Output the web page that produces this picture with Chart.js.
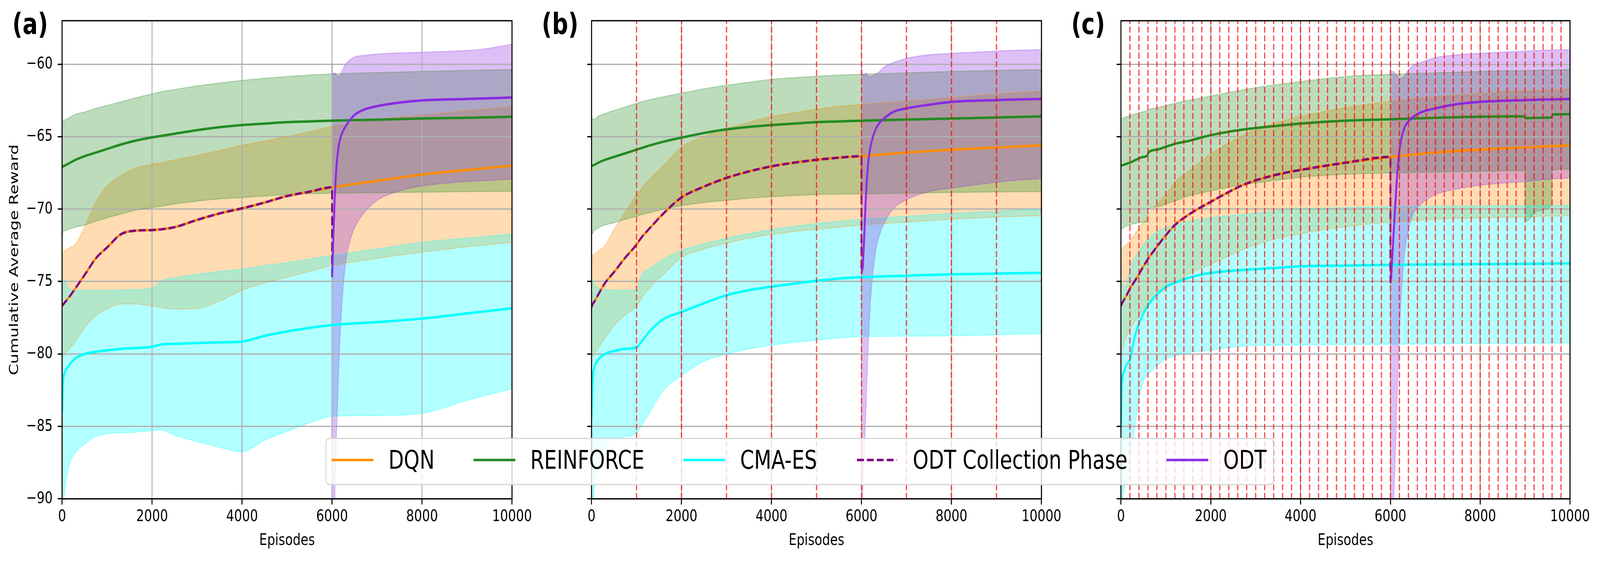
<!DOCTYPE html>
<html>
<head>
<meta charset="utf-8">
<script src="https://cdn.jsdelivr.net/npm/chart.js@4.4.1/dist/chart.umd.min.js"></script>
<style>
  html, body { margin: 0; padding: 0; background: #fff; overflow: hidden; }
  #wrap { position: relative; width: 5334px; height: 1435px; overflow: hidden; }
  #fig { position: absolute; left: 0; top: 0; width: 5334px; height: 1435px; overflow: hidden; font-family: "DejaVu Sans"; transform-origin: 0 0; }
  #fig canvas { position: absolute; left: 0; top: 0; }
  .tag { position: absolute; top: 24px; font: bold 75px/75px "DejaVu Sans"; color: #000; }
  #legend {
    position: absolute; left: 1085px; top: 1120px; height: 115px;
    padding: 0 21px; border: 3px solid #d6d6d6; border-radius: 14px;
    background: rgba(255,255,255,0.8); display: flex; align-items: flex-start;
    font: 66.7px "DejaVu Sans"; color: #000; white-space: nowrap;
  }
  #legend svg { width: 133px; height: 106px; overflow: visible; margin-right: 53px; flex: none; }
  #legend span { line-height: 106px; margin-right: 133px; }
  #legend span:last-child { margin-right: 0; }
</style>
</head>
<body>
<div id="wrap">
<div id="fig">
  <canvas id="chartA" width="5334" height="1435"></canvas>
  <canvas id="chartB" width="5334" height="1435"></canvas>
  <canvas id="chartC" width="5334" height="1435"></canvas>
  <div class="tag" style="left:41px">(a)</div>
  <div class="tag" style="left:1806px">(b)</div>
  <div class="tag" style="left:3571px">(c)</div>
  <div id="legend"></div>
</div>
</div>
<script>
// --- DATA ---
const xTicks = [0, 2000, 4000, 6000, 8000, 10000];
const yTicks = [-90, -85, -80, -75, -70, -65, -60];
const yMin = -90, yMax = -57;

const seriesNames = ['DQN', 'REINFORCE', 'CMA-ES', 'ODT Collection Phase', 'ODT'];

// panel (a)
const episodesA = [0, 20, 60, 150, 300, 500, 750, 1000, 1300, 1600, 2000, 2200, 2500, 3000, 3500, 4000, 4500, 5000, 5500, 6000, 7000, 8000, 9000, 10000];
const dqnMeanA = [-76.7, -76.6, -76.45, -76.1, -75.45, -74.55, -73.4, -72.65, -71.75, -71.5, -71.45, -71.4, -71.25, -70.75, -70.3, -69.95, -69.55, -69.1, -68.8, -68.5, -68.05, -67.62, -67.3, -67.0];
const dqnUpA = [-73.3, -73.0, -72.9, -72.7, -72.4, -71.2, -69.5, -68.4, -67.7, -67.2, -66.9, -66.8, -66.6, -66.3, -65.95, -65.6, -65.3, -65.0, -64.65, -64.3, -63.8, -63.5, -63.2, -62.93];
const dqnLowA = [-80.5, -80.2, -80.0, -79.7, -79.1, -78.2, -77.35, -76.9, -76.55, -76.55, -76.7, -76.8, -76.9, -76.85, -76.35, -75.6, -75.1, -74.7, -74.3, -73.9, -73.4, -72.97, -72.6, -72.3];
const reinMeanA = [-67.1, -67.05, -67.0, -66.85, -66.6, -66.35, -66.1, -65.85, -65.55, -65.3, -65.05, -64.95, -64.8, -64.55, -64.35, -64.2, -64.1, -64.0, -63.95, -63.9, -63.83, -63.75, -63.7, -63.63];
const reinUpA = [-64.1, -63.9, -63.85, -63.7, -63.45, -63.3, -63.05, -62.85, -62.6, -62.35, -62.05, -61.9, -61.75, -61.5, -61.3, -61.12, -60.97, -60.85, -60.75, -60.67, -60.58, -60.5, -60.43, -60.37];
const reinLowA = [-71.9, -71.6, -71.5, -71.4, -71.25, -71.1, -70.85, -70.6, -70.35, -70.1, -69.9, -69.8, -69.65, -69.45, -69.3, -69.2, -69.1, -69.0, -68.95, -68.9, -68.87, -68.83, -68.8, -68.77];
const cmaMeanA = [-84.0, -82.0, -81.3, -80.8, -80.3, -80.0, -79.85, -79.75, -79.65, -79.6, -79.5, -79.35, -79.3, -79.25, -79.2, -79.15, -78.75, -78.45, -78.2, -78.0, -77.8, -77.56, -77.2, -76.85];
const cmaUpA = [-76.5, -75.2, -74.9, -75.5, -75.6, -75.6, -75.6, -75.6, -75.6, -75.55, -75.45, -74.95, -74.75, -74.5, -74.3, -74.15, -73.9, -73.7, -73.45, -73.2, -72.75, -72.3, -72.0, -71.72];
const cmaLowA = [-93.0, -91.0, -89.5, -87.8, -86.8, -86.2, -85.7, -85.5, -85.45, -85.4, -85.3, -85.25, -85.6, -86.05, -86.45, -86.75, -85.95, -85.35, -84.75, -84.3, -84.25, -84.1, -83.2, -82.4];

// ODT runs from episode 6000 on
const odtEpisodes = [6000, 6010, 6030, 6060, 6100, 6150, 6200, 6300, 6400, 6500, 6700, 7000, 7500, 8000, 9000, 9300, 10000];
const odtMeanA = [-74.7, -74.0, -71.8, -69.2, -67.0, -65.6, -64.95, -64.3, -63.85, -63.5, -63.15, -62.9, -62.65, -62.5, -62.4, -62.37, -62.3];
const odtUpA = [-60.0, -60.5, -60.7, -60.6, -60.75, -60.85, -60.6, -60.0, -59.7, -59.5, -59.4, -59.3, -59.22, -59.18, -59.05, -58.98, -58.63];
const odtLowA = [-95, -95, -93, -90, -85.5, -80.8, -77.5, -73.7, -72.2, -71.3, -70.3, -69.4, -68.75, -68.4, -68.1, -68.05, -67.93];
const evalLinesA = [10000];

// panel (b)
const episodesB = [0, 20, 60, 150, 300, 500, 750, 1000, 1100, 1300, 1600, 2000, 2500, 3000, 3500, 4000, 4500, 5000, 5500, 6000, 7000, 8000, 9000, 10000];
const dqnMeanB = [-76.8, -76.6, -76.4, -75.9, -75.1, -74.35, -73.35, -72.45, -72.0, -71.3, -70.3, -69.2, -68.45, -67.85, -67.4, -67.05, -66.8, -66.6, -66.45, -66.35, -66.1, -65.9, -65.75, -65.6];
const dqnUpB = [-73.9, -73.3, -73.1, -72.9, -72.5, -71.4, -70.2, -69.0, -68.6, -67.9, -67.0, -65.7, -65.0, -64.45, -64.0, -63.6, -63.35, -63.1, -62.9, -62.77, -62.55, -62.3, -62.05, -61.85];
const dqnLowB = [-80.3, -80.2, -80.0, -79.6, -78.9, -78.05, -77.3, -76.7, -76.2, -75.4, -74.5, -73.35, -72.75, -72.35, -72.0, -71.75, -71.55, -71.4, -71.25, -71.1, -70.9, -70.7, -70.55, -70.45];
const reinMeanB = [-67.05, -67.0, -66.95, -66.8, -66.6, -66.4, -66.15, -65.9, -65.8, -65.6, -65.35, -65.07, -64.75, -64.5, -64.33, -64.2, -64.1, -64.0, -63.95, -63.9, -63.82, -63.75, -63.68, -63.6];
const reinUpB = [-63.8, -63.75, -63.8, -63.6, -63.4, -63.2, -62.95, -62.7, -62.6, -62.45, -62.25, -62.0, -61.7, -61.45, -61.25, -61.05, -60.93, -60.83, -60.75, -60.7, -60.6, -60.5, -60.43, -60.37];
const reinLowB = [-71.5, -71.7, -71.5, -71.3, -71.1, -70.95, -70.7, -70.5, -70.4, -70.25, -70.0, -69.77, -69.55, -69.4, -69.25, -69.15, -69.07, -69.0, -68.97, -68.95, -68.9, -68.85, -68.82, -68.8];
const cmaMeanB = [-84.5, -82.0, -81.0, -80.4, -80.0, -79.8, -79.65, -79.55, -79.2, -78.4, -77.6, -77.1, -76.5, -75.95, -75.6, -75.35, -75.15, -74.95, -74.8, -74.7, -74.6, -74.5, -74.45, -74.4];
const cmaUpB = [-75.5, -74.9, -75.2, -75.45, -75.55, -75.6, -75.6, -75.6, -74.6, -74.1, -73.45, -72.85, -72.4, -72.0, -71.7, -71.4, -71.2, -71.0, -70.85, -70.7, -70.5, -70.3, -70.15, -70.0];
const cmaLowB = [-93.0, -91.0, -89.5, -87.8, -86.3, -85.9, -85.7, -85.5, -85.0, -84.0, -82.5, -81.5, -80.5, -80.0, -79.65, -79.4, -79.2, -79.05, -78.9, -78.8, -78.77, -78.75, -78.68, -78.6];
const odtMeanB = [-74.45, -74.3, -73.9, -71.9, -69.0, -66.8, -65.7, -64.6, -64.05, -63.75, -63.3, -63.05, -62.8, -62.6, -62.48, -62.45, -62.4];
const odtUpB = [-60.0, -60.4, -60.7, -60.75, -60.6, -60.8, -60.85, -60.7, -60.5, -60.2, -59.9, -59.6, -59.35, -59.25, -59.1, -59.05, -59.0];
const odtLowB = [-96, -93, -89.5, -87, -83.8, -79.5, -76.4, -73.2, -71.8, -71.0, -70.0, -69.35, -68.8, -68.55, -68.15, -68.05, -67.9];
const evalLinesB = [1000, 2000, 3000, 4000, 5000, 6000, 7000, 8000, 9000, 10000];

// panel (c)
const episodesC = [0, 20, 60, 100, 150, 200, 300, 400, 500, 590, 610, 800, 1000, 1200, 1500, 2000, 2750, 3500, 4000, 5000, 6000, 7000, 8000, 8990, 9010, 9300, 9590, 9610, 10000];
const dqnMeanC = [-76.7, -76.55, -76.3, -76.1, -75.8, -75.5, -75.0, -74.5, -73.95, -73.5, -73.4, -72.6, -71.8, -71.1, -70.4, -69.5, -68.3, -67.6, -67.3, -66.8, -66.4, -66.1, -65.9, -65.75, -65.75, -65.7, -65.65, -65.65, -65.6];
const dqnUpC = [-72.9, -72.8, -72.6, -72.5, -72.35, -72.2, -71.75, -71.3, -70.9, -70.55, -70.4, -69.65, -68.97, -68.1, -67.4, -66.2, -64.85, -64.0, -63.6, -63.0, -62.55, -62.25, -62.0, -61.85, -61.85, -61.8, -61.75, -61.75, -61.7];
const dqnLowC = [-80.35, -80.0, -79.4, -79.0, -78.6, -78.3, -77.8, -77.4, -76.95, -76.6, -76.5, -75.95, -75.5, -75.1, -74.5, -73.8, -72.75, -72.0, -71.7, -71.2, -70.9, -70.7, -70.6, -70.55, -70.55, -70.5, -70.48, -70.48, -70.45];
const reinMeanC = [-67.0, -66.98, -66.95, -66.9, -66.85, -66.8, -66.65, -66.5, -66.4, -66.3, -66.1, -65.9, -65.7, -65.5, -65.3, -64.9, -64.5, -64.25, -64.1, -63.9, -63.8, -63.7, -63.62, -63.6, -63.72, -63.7, -63.68, -63.47, -63.45];
const reinUpC = [-63.5, -63.8, -63.7, -63.65, -63.6, -63.55, -63.45, -63.35, -63.28, -63.2, -63.15, -63.0, -62.85, -62.7, -62.5, -62.2, -61.75, -61.4, -61.2, -60.85, -60.7, -60.6, -60.5, -60.45, -60.45, -60.42, -60.4, -60.4, -60.37];
const reinLowC = [-71.4, -71.35, -71.3, -71.2, -71.15, -71.1, -71.0, -70.95, -70.9, -70.86, -70.0, -69.85, -69.65, -69.45, -69.1, -68.75, -68.3, -68.0, -67.8, -67.6, -67.5, -67.45, -67.4, -67.35, -70.85, -70.1, -69.7, -67.3, -67.25];
const cmaMeanC = [-85.0, -82.0, -81.3, -80.9, -80.6, -80.4, -78.9, -77.9, -77.2, -76.7, -76.6, -75.9, -75.35, -75.1, -74.75, -74.4, -74.2, -74.05, -73.95, -73.9, -73.85, -73.82, -73.8, -73.78, -73.78, -73.77, -73.76, -73.76, -73.75];
const cmaUpC = [-75.0, -75.1, -75.3, -75.35, -74.8, -74.0, -73.4, -72.9, -72.45, -72.1, -72.05, -71.55, -71.3, -71.1, -70.85, -70.6, -70.35, -70.1, -70.0, -69.9, -69.82, -69.8, -69.78, -69.77, -69.77, -69.76, -69.75, -69.75, -69.72];
const cmaLowC = [-91.0, -90.3, -89.5, -89.0, -88.45, -87.4, -85.2, -83.2, -81.9, -81.45, -81.4, -80.8, -80.35, -80.15, -79.9, -79.75, -79.45, -79.4, -79.38, -79.35, -79.33, -79.3, -79.28, -79.27, -79.27, -79.26, -79.25, -79.25, -79.25];
const odtMeanC = [-75.1, -75.0, -74.0, -72.3, -70.2, -67.7, -66.0, -64.5, -63.95, -63.65, -63.3, -63.05, -62.75, -62.6, -62.48, -62.45, -62.4];
const odtUpC = [-60.5, -60.4, -60.55, -60.5, -60.6, -60.8, -61.0, -60.85, -60.4, -60.1, -59.85, -59.55, -59.35, -59.25, -59.1, -59.05, -59.0];
const odtLowC = [-96, -95, -93, -91, -88, -83.0, -78.5, -73.5, -71.5, -70.4, -69.6, -69.0, -68.6, -68.35, -68.1, -68.0, -67.85];
const evalLinesC = [200, 400, 600, 800, 1000, 1200, 1400, 1600, 1800, 2000, 2200, 2400, 2600, 2800, 3000, 3200, 3400, 3600, 3800, 4000,
  4200, 4400, 4600, 4800, 5000, 5200, 5400, 5600, 5800, 6000, 6200, 6400, 6600, 6800, 7000, 7200, 7400, 7600, 7800, 8000,
  8200, 8400, 8600, 8800, 9000, 9200, 9400, 9600, 9800, 10000];

// --- STYLE ---
const colors = { dqn: '#ff8c00', rein: '#228b22', cma: '#00ffff', collect: '#800080', odt: '#8a2be2' };
const bandColors = {
  dqn: 'rgba(255,140,0,0.3)', rein: 'rgba(34,139,34,0.3)',
  cma: 'rgba(0,255,255,0.3)', odt: 'rgba(138,43,226,0.3)'
};
const PT = 300 / 72;  // figure was drawn at 300 dpi
const FONT = 10 * PT;

// the figure is laid out in 5334x1435 px; fit it to whatever viewport we actually get
const wrap = document.getElementById('wrap');
const fig = document.getElementById('fig');
const sx = window.innerWidth / 5334, sy = window.innerHeight / 1435;
if (sx > 0 && sy > 0 && (Math.abs(sx - 1) > 0.005 || Math.abs(sy - 1) > 0.005)) {
  fig.style.transform = 'scale(' + sx + ',' + sy + ')';
  wrap.style.width = window.innerWidth + 'px';
  wrap.style.height = window.innerHeight + 'px';
}

function pts(xs, ys) { return xs.map((x, i) => ({ x: x, y: ys[i] })); }

function vlines(xs) {
  const out = [];
  xs.forEach(x => { out.push({ x: x, y: yMin }, { x: x, y: yMax }, { x: x, y: null }); });
  return out;
}

function minusFmt(v) { return v < 0 ? '\u2212' + Math.abs(v) : String(v); }

function meanLine(data, color, order, dash) {
  return {
    data: data, borderColor: color, borderWidth: 1.5 * PT, borderDash: dash || [],
    borderCapStyle: 'butt', pointRadius: 0, fill: false, order: order,
    cubicInterpolationMode: 'monotone'
  };
}

function bandEdge(data, color, order, fillTo) {
  return {
    data: data, borderColor: color, borderWidth: 2.5, pointRadius: 0,
    backgroundColor: color, fill: fillTo === undefined ? false : fillTo,
    order: order, cubicInterpolationMode: 'monotone'
  };
}

const framePlugin = {
  id: 'frame',
  afterDatasetsDraw(chart) {
    const a = chart.chartArea, ctx = chart.ctx;
    ctx.save();
    ctx.strokeStyle = '#000';
    ctx.lineWidth = 0.8 * PT;
    ctx.strokeRect(a.left, a.top, a.right - a.left, a.bottom - a.top);
    ctx.restore();
  }
};

function makePanel(id, p) {
  const collect = pts(p.x.filter(v => v <= 6000), p.dqnMean);
  collect.push({ x: odtEpisodes[0], y: p.odtMean[0] });

  // lower edges get the higher order so their curves are ready before the fill uses them
  const datasets = [
    { data: vlines(p.evalLines), borderColor: 'rgba(255,0,0,0.7)', borderWidth: PT,
      borderDash: [3.7 * PT, 1.6 * PT], pointRadius: 0, fill: false, order: 0, tension: 0 },
    meanLine(pts(odtEpisodes, p.odtMean), colors.odt, 1),
    meanLine(collect, colors.collect, 2, [3.7 * 1.5 * PT, 1.6 * 1.5 * PT]),
    meanLine(pts(p.x, p.cmaMean), colors.cma, 3),
    meanLine(pts(p.x, p.reinMean), colors.rein, 4),
    meanLine(pts(p.x, p.dqnMean), colors.dqn, 5),
    bandEdge(pts(odtEpisodes, p.odtLow), bandColors.odt, 7),
    bandEdge(pts(odtEpisodes, p.odtUp), bandColors.odt, 6, 6),
    bandEdge(pts(p.x, p.cmaLow), bandColors.cma, 9),
    bandEdge(pts(p.x, p.cmaUp), bandColors.cma, 8, 8),
    bandEdge(pts(p.x, p.reinLow), bandColors.rein, 11),
    bandEdge(pts(p.x, p.reinUp), bandColors.rein, 10, 10),
    bandEdge(pts(p.x, p.dqnLow), bandColors.dqn, 13),
    bandEdge(pts(p.x, p.dqnUp), bandColors.dqn, 12, 12)
  ];

  const gridOpts = {
    color: '#b0b0b0', lineWidth: 0.8 * PT,
    tickColor: '#000', tickWidth: 0.8 * PT, tickLength: 3.5 * PT
  };
  const yW = p.showY ? 187 : 30;
  const xH = 150;

  return new Chart(document.getElementById(id), {
    type: 'line',
    data: { datasets: datasets },
    options: {
      responsive: false, animation: false, devicePixelRatio: 1,
      layout: { padding: { left: p.left - yW, right: 5334 - p.right, top: 53, bottom: 1435 - 1276 - xH } },
      plugins: {
        legend: { display: false }, tooltip: { enabled: false },
        filler: { propagate: false, drawTime: 'beforeDraw' }
      },
      scales: {
        x: {
          type: 'linear', min: 0, max: 10000,
          afterBuildTicks: s => { s.ticks = xTicks.map(v => ({ value: v })); },
          afterFit: s => { s.height = xH; s.paddingLeft = 0; s.paddingRight = 0; },
          ticks: { color: '#000', font: { size: FONT }, padding: 7, maxRotation: 0, autoSkip: false, callback: v => String(v) },
          grid: gridOpts,
          border: { display: false },
          title: { display: true, text: 'Episodes', color: '#000', font: { size: FONT }, padding: { top: 0, bottom: 18 } }
        },
        y: {
          type: 'linear', min: yMin, max: yMax,
          afterBuildTicks: s => { s.ticks = yTicks.map(v => ({ value: v })); },
          afterFit: s => { s.width = yW; s.paddingTop = 0; s.paddingBottom = 0; },
          ticks: { display: p.showY, color: '#000', font: { size: FONT }, padding: 17, callback: minusFmt },
          grid: gridOpts,
          border: { display: false },
          title: { display: p.showY, text: 'Cumulative Average Reward', color: '#000', font: { size: FONT }, padding: { top: 4, bottom: 0 } }
        }
      }
    },
    plugins: [framePlugin]
  });
}

Chart.defaults.font.family = 'DejaVu Sans';
Chart.defaults.color = '#000';

makePanel('chartA', {
  left: 207, right: 1707, showY: true, x: episodesA, evalLines: evalLinesA,
  dqnMean: dqnMeanA, dqnUp: dqnUpA, dqnLow: dqnLowA,
  reinMean: reinMeanA, reinUp: reinUpA, reinLow: reinLowA,
  cmaMean: cmaMeanA, cmaUp: cmaUpA, cmaLow: cmaLowA,
  odtMean: odtMeanA, odtUp: odtUpA, odtLow: odtLowA
});
makePanel('chartB', {
  left: 1972, right: 3472, showY: false, x: episodesB, evalLines: evalLinesB,
  dqnMean: dqnMeanB, dqnUp: dqnUpB, dqnLow: dqnLowB,
  reinMean: reinMeanB, reinUp: reinUpB, reinLow: reinLowB,
  cmaMean: cmaMeanB, cmaUp: cmaUpB, cmaLow: cmaLowB,
  odtMean: odtMeanB, odtUp: odtUpB, odtLow: odtLowB
});
makePanel('chartC', {
  left: 3737, right: 5234, showY: false, x: episodesC, evalLines: evalLinesC,
  dqnMean: dqnMeanC, dqnUp: dqnUpC, dqnLow: dqnLowC,
  reinMean: reinMeanC, reinUp: reinUpC, reinLow: reinLowC,
  cmaMean: cmaMeanC, cmaUp: cmaUpC, cmaLow: cmaLowC,
  odtMean: odtMeanC, odtUp: odtUpC, odtLow: odtLowC
});

// --- LEGEND (shared by the three panels) ---
const legendColors = [colors.dqn, colors.rein, colors.cma, colors.collect, colors.odt];
const legendEl = document.getElementById('legend');
seriesNames.forEach((name, i) => {
  const dashed = name === 'ODT Collection Phase';
  const line = dashed
    ? `<line x1="0" y1="53.5" x2="133" y2="53.5" stroke="${legendColors[i]}" stroke-width="6.25" stroke-dasharray="23 10"/>`
    : `<line x1="0" y1="53.5" x2="133" y2="53.5" stroke="${legendColors[i]}" stroke-width="6.25" stroke-linecap="square"/>`;
  legendEl.innerHTML += `<svg viewBox="0 0 133 106">${line}</svg><span>${name}</span>`;
});
</script>
</body>
</html>
